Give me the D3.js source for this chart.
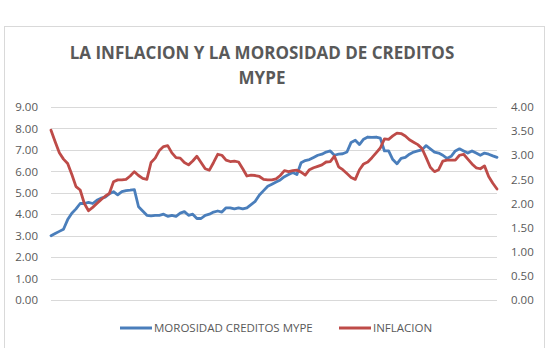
<!DOCTYPE html>
<head>
  <title>La inflacion y la morosidad de creditos MYPE</title>
  <style>
    body { margin: 0; background: #fff; }
    text { font-family: "Open Sans", sans-serif; fill: #595959; }
  </style>
</head>
<body>
  <script src="https://cdn.jsdelivr.net/npm/d3@7"></script>
  <script>

    // monthly periods (no labels shown on the x axis)
    var periods = d3.range(1, 109);

    // MOROSIDAD CREDITOS MYPE (left axis, %)
    var morosidad = [
      3.00, 3.10, 3.20, 3.30, 3.75, 4.05, 4.25, 4.50, 4.50, 4.55,
      4.50, 4.65, 4.75, 4.80, 4.95, 5.05, 4.90, 5.05, 5.10, 5.12,
      5.15, 4.35, 4.15, 3.95, 3.92, 3.95, 3.95, 4.00, 3.90, 3.95,
      3.90, 4.05, 4.12, 3.95, 4.00, 3.80, 3.80, 3.95, 4.00, 4.10,
      4.15, 4.10, 4.30, 4.30, 4.25, 4.30, 4.25, 4.30, 4.45, 4.60,
      4.90, 5.10, 5.30, 5.40, 5.50, 5.60, 5.75, 5.85, 5.95, 5.85,
      6.40, 6.50, 6.55, 6.65, 6.75, 6.80, 6.90, 6.95, 6.75, 6.80,
      6.82, 6.90, 7.35, 7.45, 7.25, 7.50, 7.60, 7.58, 7.60, 7.55,
      6.95, 6.95, 6.55, 6.35, 6.60, 6.65, 6.80, 6.90, 6.95, 7.00,
      7.20, 7.05, 6.90, 6.85, 6.75, 6.60, 6.70, 6.95, 7.05, 6.95,
      6.85, 6.95, 6.85, 6.75, 6.85, 6.80, 6.72, 6.65
    ];

    // INFLACION (right axis, %)
    var inflacion = [
      3.52, 3.28, 3.05, 2.92, 2.83, 2.60, 2.35, 2.28, 2.00, 1.85,
      1.92, 2.00, 2.08, 2.15, 2.21, 2.45, 2.49, 2.49, 2.50, 2.57,
      2.66, 2.58, 2.52, 2.50, 2.85, 2.94, 3.10, 3.18, 3.20, 3.05,
      2.95, 2.94, 2.85, 2.80, 2.88, 2.98, 2.85, 2.72, 2.69, 2.85,
      3.02, 3.00, 2.90, 2.87, 2.88, 2.86, 2.72, 2.57, 2.59, 2.58,
      2.56, 2.50, 2.49, 2.49, 2.51, 2.58, 2.68, 2.66, 2.68, 2.69,
      2.65, 2.59, 2.70, 2.74, 2.77, 2.80, 2.86, 2.87, 2.98, 2.76,
      2.70, 2.62, 2.54, 2.50, 2.70, 2.82, 2.86, 2.95, 3.05, 3.15,
      3.34, 3.33, 3.40, 3.46, 3.45, 3.40, 3.32, 3.27, 3.22, 3.14,
      2.95, 2.75, 2.66, 2.70, 2.88, 2.90, 2.90, 2.90, 3.00, 3.02,
      2.92, 2.82, 2.74, 2.72, 2.78, 2.56, 2.42, 2.30
    ];

    var leftTicks = [0, 1, 2, 3, 4, 5, 6, 7, 8, 9];
    var rightTicks = [0, 0.5, 1, 1.5, 2, 2.5, 3, 3.5, 4];

    var w = 549, h = 348;
    var plotLeft = 51, plotRight = 497, plotTop = 107, plotBottom = 300;

    var svg = d3.select("body").append("svg")
        .attr("width", w)
        .attr("height", h);

    // chart frame
    svg.append("rect")
        .attr("x", 4.5).attr("y", 26.5)
        .attr("width", 540).attr("height", 340)
        .attr("fill", "#fff")
        .attr("stroke", "#d9d9d9");

    var x = d3.scalePoint()
        .domain(periods)
        .range([plotLeft, plotRight]);

    var yLeft = d3.scaleLinear()
        .domain([0, 9])
        .range([plotBottom, plotTop]);

    var yRight = d3.scaleLinear()
        .domain([0, 4])
        .range([plotBottom, plotTop]);

    // gridlines (left axis)
    svg.append("g")
        .selectAll("line")
        .data(leftTicks)
        .enter()
        .append("line")
        .attr("x1", plotLeft).attr("x2", plotRight)
        .attr("y1", function(d) { return Math.round(yLeft(d)) + 0.5; })
        .attr("y2", function(d) { return Math.round(yLeft(d)) + 0.5; })
        .attr("stroke", "#d9d9d9")
        .attr("stroke-width", 1);

    var yAxisLeft = d3.axisLeft(yLeft)
        .tickValues(leftTicks)
        .tickFormat(d3.format(".2f"))
        .tickSize(0)
        .tickPadding(0);

    var gl = svg.append("g")
        .attr("transform", "translate(38,0)")
        .call(yAxisLeft);
    gl.select(".domain").remove();
    gl.selectAll("text")
        .style("font-size", "11.5px")
        .style("font-family", "'Open Sans', sans-serif")
        .attr("fill", "#595959");

    var yAxisRight = d3.axisRight(yRight)
        .tickValues(rightTicks)
        .tickFormat(d3.format(".2f"))
        .tickSize(0)
        .tickPadding(0);

    var gr = svg.append("g")
        .attr("transform", "translate(511,0)")
        .call(yAxisRight);
    gr.select(".domain").remove();
    gr.selectAll("text")
        .style("font-size", "11.5px")
        .style("font-family", "'Open Sans', sans-serif")
        .attr("fill", "#595959");

    var lineLeft = d3.line()
        .x(function(d, i) { return x(periods[i]); })
        .y(function(d) { return yLeft(d); });

    var lineRight = d3.line()
        .x(function(d, i) { return x(periods[i]); })
        .y(function(d) { return yRight(d); });

    svg.append("path")
        .datum(morosidad)
        .attr("fill", "none")
        .attr("stroke", "#4a7ebb")
        .attr("stroke-width", 2.8)
        .attr("stroke-linejoin", "round")
        .attr("stroke-linecap", "round")
        .attr("d", lineLeft);

    svg.append("path")
        .datum(inflacion)
        .attr("fill", "none")
        .attr("stroke", "#be4b48")
        .attr("stroke-width", 2.8)
        .attr("stroke-linejoin", "round")
        .attr("stroke-linecap", "round")
        .attr("d", lineRight);

    // title
    var title = svg.append("text")
        .attr("text-anchor", "middle")
        .style("font-size", "17px")
        .style("font-weight", "bold");
    title.append("tspan").attr("x", 262).attr("y", 59)
        .text("LA INFLACION Y LA MOROSIDAD DE CREDITOS");
    title.append("tspan").attr("x", 262).attr("y", 84)
        .text("MYPE");

    // legend
    var legend = [
      { name: "MOROSIDAD CREDITOS MYPE", color: "#4a7ebb", x: 120 },
      { name: "INFLACION", color: "#be4b48", x: 339 }
    ];
    var lg = svg.append("g").selectAll("g")
        .data(legend)
        .enter()
        .append("g")
        .attr("transform", function(d) { return "translate(" + d.x + ",328)"; });
    lg.append("line")
        .attr("x1", 0).attr("x2", 32)
        .attr("stroke", function(d) { return d.color; })
        .attr("stroke-width", 3);
    lg.append("text")
        .attr("x", 34)
        .attr("dy", "0.35em")
        .style("font-size", "11.5px")
        .text(function(d) { return d.name; });

  </script>
</body>
